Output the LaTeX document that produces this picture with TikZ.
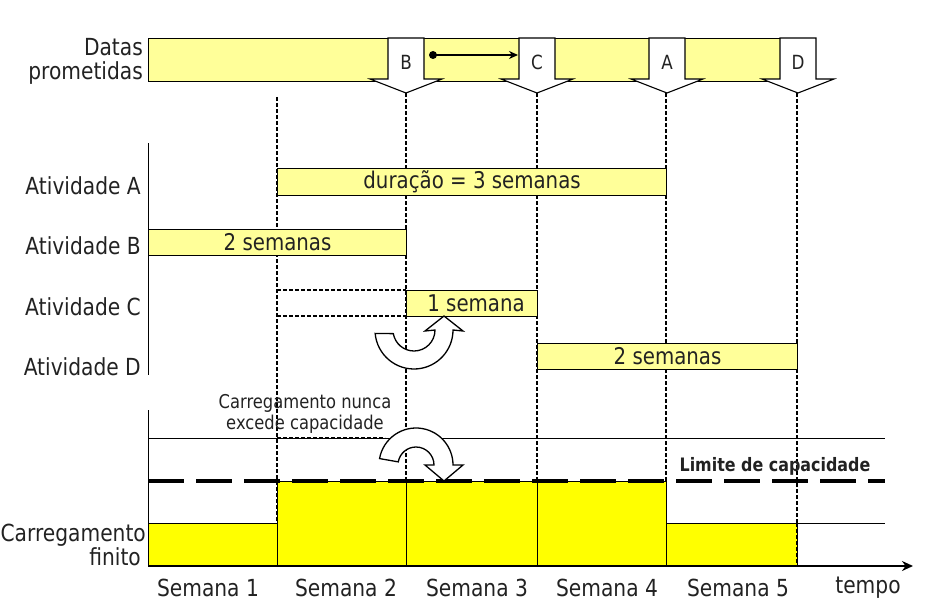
\documentclass[tikz,border=0pt]{standalone}
\usepackage{fontspec}
\setmainfont{DejaVu Sans}[FakeStretch=0.86]
\usetikzlibrary{arrows.meta}
\definecolor{lightyel}{HTML}{FFFF99}
\definecolor{brightyel}{HTML}{FFFF00}
\definecolor{txt}{HTML}{222222}
\begin{document}
\begin{tikzpicture}[x=1pt,y=-1pt,
  lbl/.style={font=\fontsize{23.5}{27}\selectfont, text=txt, inner sep=0pt},
  bar/.style={draw=black, line width=1.1pt, fill=lightyel, inner sep=0pt, anchor=north west, font=\fontsize{23}{27}\selectfont, text=txt},
  gridline/.style={line width=2pt, dash pattern=on 4pt off 2pt},
  datearrow/.style={draw=black, line width=1.1pt, fill=white},
  uturn/.style={draw=black, line width=1.3pt, fill=white},
  load/.style={draw=black, line width=0.8pt, fill=brightyel, inner sep=0pt, anchor=north west},
]
\useasboundingbox (0,0) rectangle (944,615);

% ---- vertical grid lines
\coordinate (v1t) at (277,97);  \coordinate (v1b) at (277,565);
\coordinate (v2t) at (406,93);  \coordinate (v2b) at (406,565);
\coordinate (v3t) at (537,93);  \coordinate (v3b) at (537,565);
\coordinate (v4t) at (666,93);  \coordinate (v4b) at (666,565);
\coordinate (v5t) at (797,93);  \coordinate (v5b) at (797,565);
\foreach \i in {1,...,5}{\draw[gridline] (v\i t) -- (v\i b);}

% ---- promised dates bar
\node[lbl, anchor=base east] (datas) at (143,56) {Datas};
\node[lbl, anchor=base east] (prom) at (143,80) {prometidas};
\node[bar, minimum width=252pt, minimum height=43pt] (d1) at (148,38) {};
\node[bar, minimum width=110pt, minimum height=43pt] (d2) at (415,38) {};
\node[bar, minimum width=110pt, minimum height=43pt] (d3) at (546,38) {};
\node[bar, minimum width=110pt, minimum height=43pt] (d4) at (676,38) {};
\foreach \cx/\l in {406/B,537/C,667/A,798/D}{
  \draw[datearrow] (\cx-18,38) -- (\cx+18,38) -- (\cx+18,79) -- (\cx+36,79) -- (\cx,93) -- (\cx-36,79) -- (\cx-18,79) -- cycle;
  \node[lbl, font=\fontsize{19.5}{22}\selectfont] (arr\l) at (\cx,62) {\l};
}
\node[circle, fill=black, inner sep=0pt, minimum size=8pt] (dot) at (433,55) {};
\coordinate (dend) at (518,55);
\draw[line width=2.4pt, -{Stealth[length=9pt,width=8pt]}] (dot.center) -- (dend);

% ---- activities
\coordinate (ax1t) at (148,143); \coordinate (ax1b) at (148,375);
\draw[line width=1pt] (ax1t) -- (ax1b);
\node[lbl, anchor=east] (labA) at (141,186) {Atividade A};
\node[lbl, anchor=east] (labB) at (141,246) {Atividade B};
\node[lbl, anchor=east] (labC) at (141,307) {Atividade C};
\node[lbl, anchor=east] (labD) at (141,367) {Atividade D};

\node[bar, minimum width=389pt, minimum height=27pt] (barA) at (277,168) {dura\c{c}\~ao = 3 semanas};
\node[bar, minimum width=258pt, minimum height=26pt] (barB) at (148,229) {2 semanas};
\coordinate (c1) at (277,290); \coordinate (c2) at (406,290);
\coordinate (c3) at (277,316); \coordinate (c4) at (406,316);
\draw[gridline] (c1) -- (c2);
\draw[gridline] (c3) -- (c4);
\node[bar, minimum width=131pt, minimum height=26pt] (barC) at (406,290) {\hspace{8pt}1 semana};
\node[bar, minimum width=260pt, minimum height=26pt] (barD) at (537,343) {2 semanas};

% U-turn arrow (activity C moved)
\draw[uturn] (375.15,333.4) arc[start angle=175, end angle=0, radius=39]
  -- (463,331) -- (444,316) -- (425,331) -- (435,330)
  arc[start angle=0, end angle=170, radius=21] -- cycle;

% ---- load chart
\coordinate (ax2t) at (148,410); \coordinate (ax2b) at (148,566);
\draw[line width=1pt] (ax2t) -- (ax2b);
\coordinate (cap1) at (148,438); \coordinate (cap2) at (885,438);
\draw[line width=0.8pt] (cap1) -- (cap2);
\coordinate (cd1) at (277,438); \coordinate (cd2) at (385,438);
\draw[gridline] (cd1) -- (cd2);

\node[load, minimum width=129pt, minimum height=43pt] (w1) at (148,523) {};
\node[load, minimum width=129pt, minimum height=85pt] (w2) at (277,481) {};
\node[load, minimum width=131pt, minimum height=85pt] (w3) at (406,481) {};
\node[load, minimum width=129pt, minimum height=85pt] (w4) at (537,481) {};
\node[load, minimum width=131pt, minimum height=43pt] (w5) at (666,523) {};
\coordinate (r1) at (797,523); \coordinate (r2) at (885,523);
\draw[line width=0.8pt] (r1) -- (r2);
\draw[gridline] (v5t |- r1) -- (v5b);

\coordinate (lim1) at (148,481); \coordinate (lim2) at (885,481);
\draw[line width=4pt, dash pattern=on 36pt off 12pt] (lim1) -- (lim2);

\node[lbl, font=\fontsize{19}{21}\selectfont, align=center] (nunca) at (305,414) {Carregamento nunca\\excede capacidade};
\node[lbl, font=\bfseries\fontsize{18.5}{20}\selectfont] (limite) at (775,466) {Limite de capacidade};

% U-turn arrow (load never exceeds capacity)
\draw[uturn] (379.56,458.58) arc[start angle=190, end angle=360, radius=37]
  -- (463,465) -- (444,481) -- (425,465) -- (434,465)
  arc[start angle=360, end angle=190, radius=18] -- cycle;

\node[lbl, anchor=base east] (carr) at (146,541) {Carregamento};
\node[lbl, anchor=base east] (fin) at (141,565) {finito};

% time axis
\coordinate (t0) at (148,566); \coordinate (t1) at (913,566);
\draw[line width=2pt, -{Stealth[length=11pt,width=10pt]}] (t0) -- (t1);
\node[lbl] (s1) at (208,588) {Semana 1};
\node[lbl] (s2) at (346,588) {Semana 2};
\node[lbl] (s3) at (477,588) {Semana 3};
\node[lbl] (s4) at (607,588) {Semana 4};
\node[lbl] (s5) at (738,588) {Semana 5};
\node[lbl] (tempo) at (868,588) {tempo};
\end{tikzpicture}
\end{document}
